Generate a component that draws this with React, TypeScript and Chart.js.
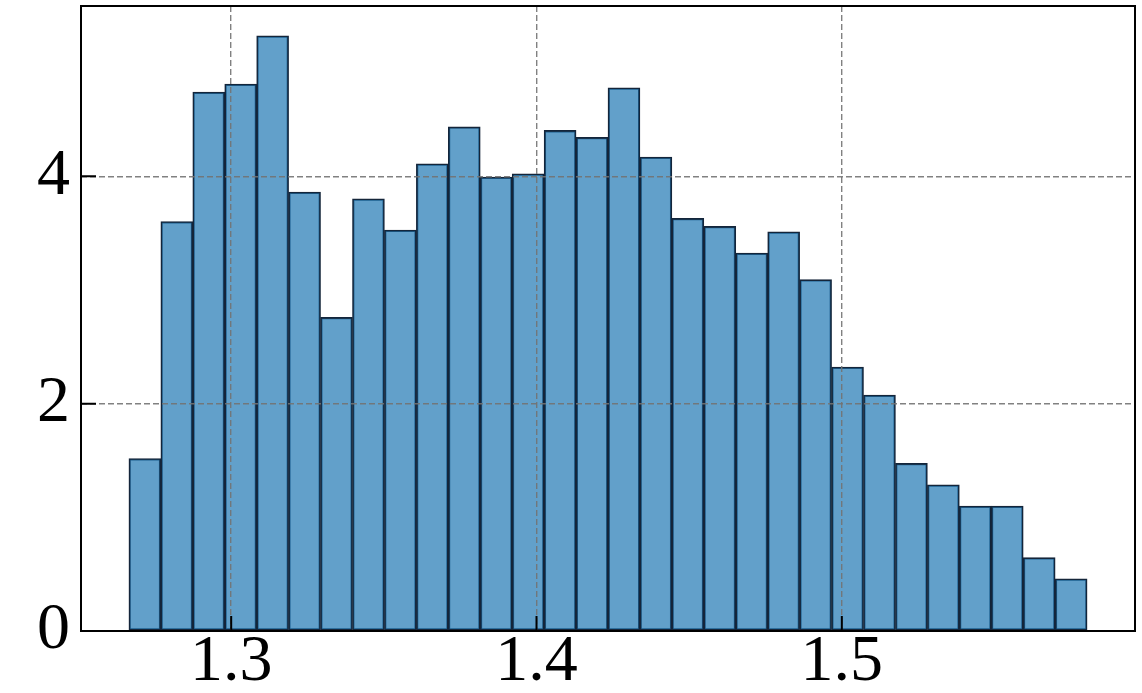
import React, { useEffect, useRef } from "react";
import { Chart, registerables } from "chart.js";

Chart.register(...registerables);

// Histogram bins (density values)
const BIN_START = 1.2665;
const BIN_WIDTH = 0.010461;
const densities = [
  1.518, 3.603, 4.742, 4.812, 5.237, 3.862, 2.759, 3.803, 3.528, 4.111,
  4.435, 3.994, 4.023, 4.404, 4.343, 4.78, 4.17, 3.63, 3.56, 3.325,
  3.513, 3.091, 2.323, 2.076, 1.475, 1.287, 1.1, 1.1, 0.645, 0.46,
];
const xTickValues = [1.3, 1.4, 1.5];
const yTickValues = [0, 2, 4];
const X_MIN = 1.25081;
const X_MAX = 1.59602;
const Y_MIN = 0;
const Y_MAX = 5.499;

const FONT = '"Liberation Serif", "Times New Roman", Times, serif';

const framePlugin = {
  id: "frame",
  afterDraw(chart: any) {
    const { ctx, chartArea: a, scales } = chart;
    ctx.save();
    ctx.strokeStyle = "#000";
    ctx.lineWidth = 2;
    ctx.beginPath();
    for (const v of xTickValues) {
      const px = scales.x.getPixelForValue(v);
      ctx.moveTo(px, a.bottom);
      ctx.lineTo(px, a.bottom - 15);
    }
    for (const v of yTickValues) {
      const py = scales.y.getPixelForValue(v);
      ctx.moveTo(a.left, py);
      ctx.lineTo(a.left + 15, py);
    }
    ctx.stroke();
    ctx.strokeRect(a.left, a.top, a.right - a.left, a.bottom - a.top);
    ctx.restore();
  },
};

export default function App() {
  const ref = useRef<HTMLCanvasElement | null>(null);

  useEffect(() => {
    if (!ref.current) return;
    const data = densities.map((d, i) => ({
      x: BIN_START + (i + 0.5) * BIN_WIDTH,
      y: d,
    }));
    const gridColor = "rgba(115,115,115,0.9)";
    const chart = new Chart(ref.current, {
      type: "bar",
      data: {
        datasets: [
          {
            data,
            backgroundColor: "rgba(31,119,180,0.7)",
            borderColor: "#14253a",
            borderWidth: 1.6,
            borderSkipped: false,
            barPercentage: 1,
            categoryPercentage: 1,
          } as any,
        ],
      },
      options: {
        animation: false,
        responsive: false,
        devicePixelRatio: 1,
        layout: { padding: { left: 0, right: 7, top: 6, bottom: 0 } },
        plugins: {
          legend: { display: false },
          tooltip: { enabled: false },
        },
        scales: {
          x: {
            type: "linear",
            min: X_MIN,
            max: X_MAX,
            offset: false,
            afterBuildTicks: (s: any) => {
              s.ticks = xTickValues.map((v) => ({ value: v }));
            },
            afterFit: (s: any) => {
              s.height = 62;
              s.paddingLeft = 0;
              s.paddingRight = 0;
            },
            ticks: {
              autoSkip: false,
              maxRotation: 0,
              padding: -8,
              color: "#000",
              font: { family: FONT, size: 66 },
              callback: (v: any) => Number(v).toFixed(1),
            },
            grid: {
              color: gridColor,
              lineWidth: 1.4,
              drawTicks: false,
              offset: false,
              z: 1,
            } as any,
            border: { display: false, dash: [6, 3] },
          },
          y: {
            type: "linear",
            min: Y_MIN,
            max: Y_MAX,
            afterBuildTicks: (s: any) => {
              s.ticks = yTickValues.map((v) => ({ value: v }));
            },
            afterFit: (s: any) => {
              s.width = 81;
              s.paddingTop = 0;
              s.paddingBottom = 0;
            },
            ticks: {
              padding: 11,
              color: "#000",
              font: { family: FONT, size: 66 },
              callback: (v: any) => String(v),
            },
            grid: {
              color: gridColor,
              lineWidth: 1.4,
              drawTicks: false,
              z: 1,
            } as any,
            border: { display: false, dash: [6, 3] },
          },
        },
      },
      plugins: [framePlugin],
    } as any);
    return () => chart.destroy();
  }, []);

  return (
    <div
      style={{
        position: "absolute",
        left: 0,
        top: 0,
        width: 1142,
        height: 693,
        background: "#fff",
      }}
    >
      <canvas
        ref={ref}
        width={1142}
        height={693}
        style={{ display: "block", width: 1142, height: 693 }}
      />
    </div>
  );
}
